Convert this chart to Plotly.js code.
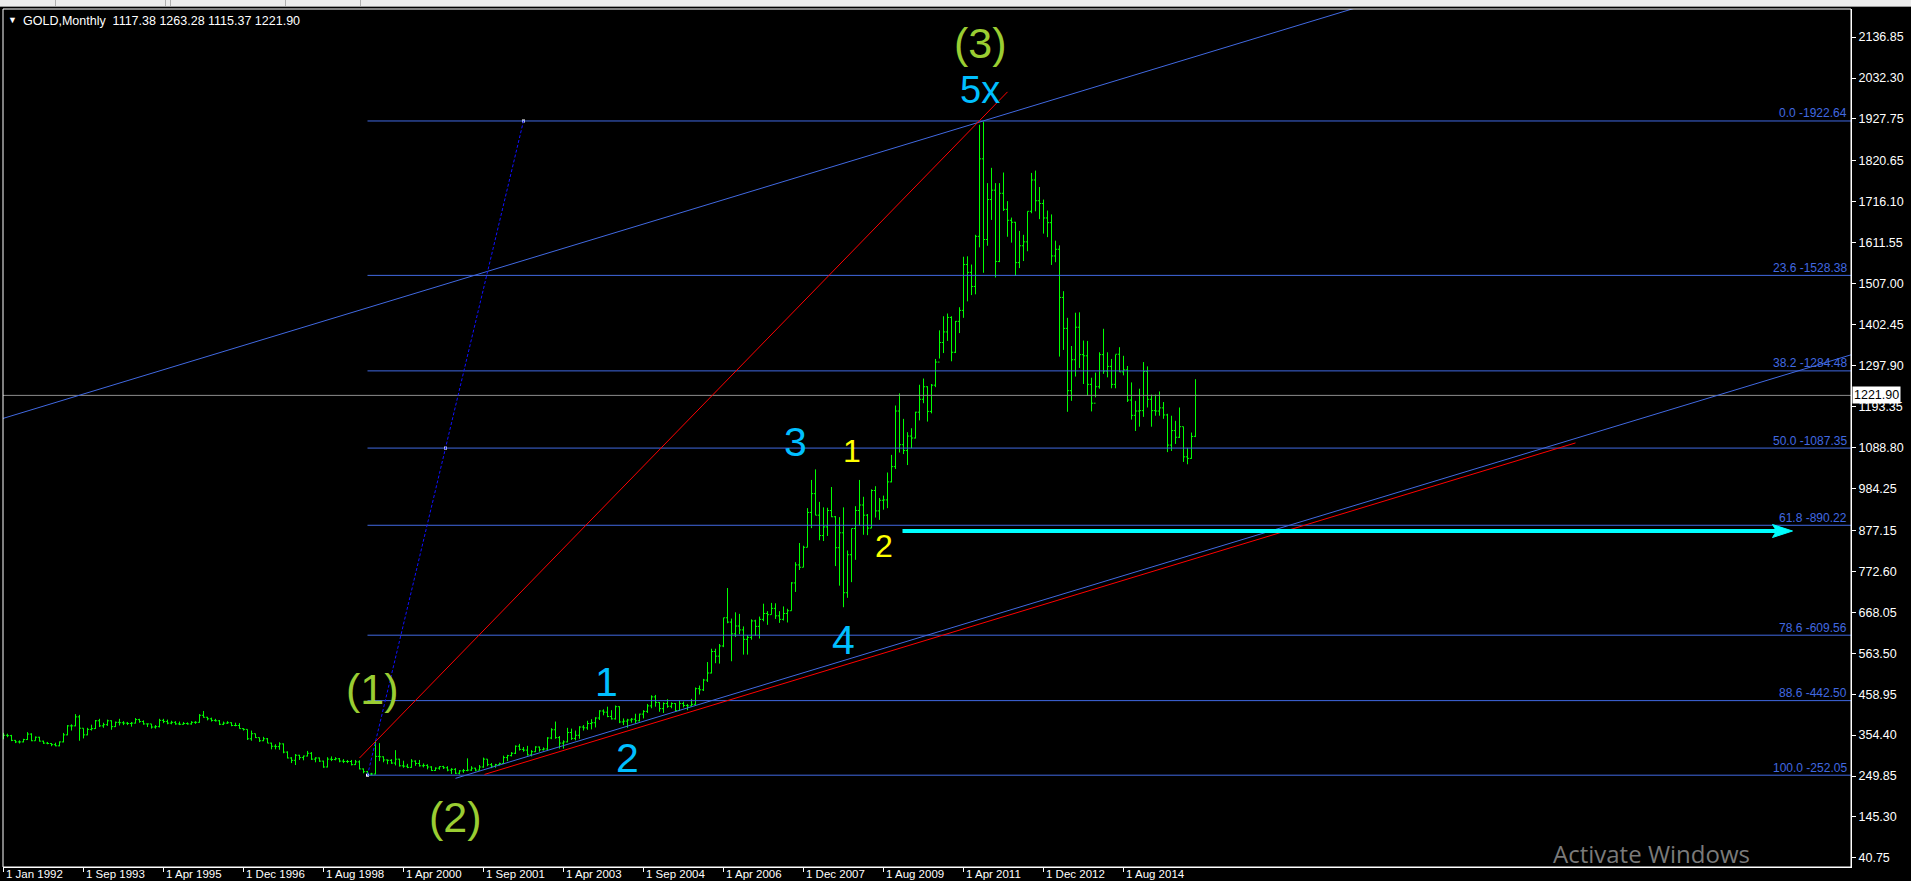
<!DOCTYPE html>
<html><head><meta charset="utf-8">
<script src="https://cdn.plot.ly/plotly-3.0.1.min.js"></script>
<style>
html,body{margin:0;padding:0;background:#000;overflow:hidden;}
#chart{position:absolute;left:0;top:0;width:1911px;height:881px;}
#tb{position:absolute;left:0;top:0;width:1911px;height:6px;background:#ececec;border-bottom:1px solid #9a9a9a;z-index:5;}
.sep{position:absolute;top:0;width:1px;height:6px;background:#b0b0b0;}
</style></head><body>
<div id="chart"></div>
<div id="tb"><div class="sep" style="left:55px"></div><div class="sep" style="left:165px"></div><div class="sep" style="left:170px"></div><div class="sep" style="left:285px"></div><div class="sep" style="left:360px"></div></div>
<script>
// ---- data (GOLD monthly bars, one entry per bar) ----
const symbol = 'GOLD', period = 'Monthly';
const open = [
353,354,353,341,337,337,343,357,340,349,339,334,
333,330,327,337,355,378,378,401,372,355,369,371,
391,378,381,391,376,387,386,385,384,385,394,389,383,
383,375,376,392,389,385,387,383,382,384,383,387,
387,405,400,396,392,391,382,385,386,379,379,371,
369,345,358,348,340,345,334,326,325,332,311,296,
290,303,297,301,308,293,296,288,273,293,292,294,
288,287,287,279,286,268,261,255,255,300,299,291,
290,283,293,276,275,272,288,282,276,277,273,264,270,274,
271,265,267,257,263,264,265,270,265,273,293,279,275,
279,282,297,302,308,326,318,316,304,312,324,317,319,
347,368,348,334,337,361,346,354,375,373,384,386,398,416,
413,402,396,427,388,390,393,395,391,408,415,429,452,
438,422,435,428,435,417,435,430,429,433,473,470,495,
513,568,556,582,654,643,613,633,623,599,604,646,
632,650,665,662,678,659,650,665,672,743,789,783,
834,923,971,916,864,886,928,912,833,871,718,815,
882,928,942,916,883,979,927,954,955,1001,1040,1182,
1096,1081,1118,1113,1179,1212,1244,1181,1248,1307,1357,1384,
1421,1332,1411,1439,1556,1536,1500,1628,1826,1620,1722,1746,
1564,1738,1697,1669,1664,1561,1604,1614,1692,1772,1719,1712,
1675,1663,1578,1595,1472,1393,1234,1313,1396,1326,1323,1250,
1202,1244,1326,1284,1296,1250,1327,1282,1287,1210,1171,1182,
1183,1283,1212,1183,1182,1190,1172,1095,1132,1115,1142,1065,
1061,1117.38];
const high = [
360,358,355,342,341,345,362,359,351,350,340,337,
334,335,338,360,380,382,408,406,372,373,381,393,
396,386,394,392,389,396,390,388,388,398,396,392,384,
383,380,396,396,394,391,390,389,388,387,390,390,
408,416,401,399,396,393,389,390,387,386,385,372,
369,366,358,348,350,347,335,331,336,333,313,298,
306,304,302,314,311,298,297,289,298,300,298,296,
293,291,291,291,290,269,263,258,341,334,300,292,
293,316,294,289,281,293,290,291,282,280,275,272,275,276,
275,270,270,265,268,295,275,271,278,297,293,283,281,
284,302,304,311,328,332,324,327,316,326,325,323,349,
372,389,352,341,373,371,366,377,380,391,395,400,418,420,
427,418,430,428,397,396,398,409,409,418,434,456,457,
439,438,446,438,436,443,440,434,447,476,481,498,541,
575,575,587,654,730,652,668,664,632,610,650,649,
657,690,671,692,691,671,683,677,745,796,845,838,
934,1006,1033,950,936,935,988,914,911,936,826,881,
939,1006,963,919,982,990,960,966,1025,1070,1196,1227,
1162,1128,1138,1180,1249,1265,1245,1251,1315,1388,1424,1431,
1424,1412,1447,1576,1577,1556,1632,1913,1921,1764,1803,1764,
1764,1791,1718,1676,1665,1642,1632,1692,1790,1796,1754,1722,
1694,1684,1617,1605,1488,1420,1348,1433,1434,1362,1361,1267,
1280,1332,1392,1332,1315,1326,1345,1323,1297,1255,1208,1239,
1307,1296,1224,1224,1232,1205,1175,1170,1157,1191,1142,1088,
1127,1263.28];
const low = [
344,349,339,334,333,336,342,339,340,338,332,331,
326,326,326,336,354,366,377,340,346,354,366,370,
375,373,378,368,375,379,380,380,376,384,386,381,375,
371,371,374,385,382,382,381,380,381,381,381,383,
386,399,392,389,389,380,380,383,377,377,371,366,
342,340,347,337,339,334,318,318,317,308,295,283,
278,291,290,300,291,285,286,271,272,288,290,285,
283,283,277,278,267,257,252,252,254,288,285,280,
281,277,274,271,270,271,276,274,272,267,263,263,266,268,
262,255,255,254,258,262,263,262,264,271,275,270,271,
277,281,288,300,306,315,312,302,300,311,312,315,316,
344,345,320,320,336,342,341,345,366,368,369,374,393,405,
400,394,394,385,380,373,386,384,389,397,411,423,427,
414,411,424,423,414,416,425,418,428,432,458,467,490,
512,538,537,579,640,543,605,612,560,560,598,608,
601,645,636,662,651,641,647,642,672,720,776,783,
834,883,916,852,850,863,911,786,736,681,705,745,
802,890,866,865,883,910,904,930,934,1000,1034,1076,
1072,1044,1087,1112,1158,1202,1155,1176,1243,1316,1330,1361,
1309,1330,1381,1420,1462,1478,1480,1600,1535,1604,1670,1523,
1562,1693,1627,1612,1527,1547,1565,1590,1687,1692,1672,1635,
1626,1555,1562,1321,1338,1180,1208,1270,1292,1251,1221,1181,
1217,1239,1277,1268,1240,1240,1282,1273,1205,1160,1131,1142,
1167,1191,1142,1170,1170,1162,1077,1080,1098,1113,1052,1046,
1060,1115.37];
const close = [
354,353,341,337,337,343,357,340,349,339,334,333,
330,327,337,355,378,378,401,372,355,369,371,391,
378,381,391,376,387,386,385,384,385,394,389,383,383,
375,376,392,389,385,387,383,382,384,383,387,387,
405,400,396,392,391,382,385,386,379,379,371,369,
345,358,348,340,345,334,326,325,332,311,296,290,
303,297,301,308,293,296,288,273,293,292,294,288,
287,287,279,286,268,261,255,255,300,299,291,290,
283,293,276,275,272,288,282,276,277,273,264,270,274,271,
265,267,257,263,264,265,270,265,273,293,279,275,279,
282,297,302,308,326,318,316,304,312,324,317,319,347,
368,348,334,337,361,346,354,375,373,384,386,398,416,413,
402,396,427,388,390,393,395,391,408,415,429,452,438,
422,435,428,435,417,435,430,429,433,473,470,495,513,
568,556,582,654,643,613,633,623,599,604,646,632,
650,665,662,678,659,650,665,672,743,789,783,834,
923,971,916,864,886,928,912,833,871,718,815,882,
928,942,916,883,979,927,954,955,1001,1040,1182,1096,
1081,1118,1113,1179,1212,1244,1181,1248,1307,1357,1384,1421,
1332,1411,1439,1556,1536,1500,1628,1826,1620,1722,1746,1564,
1738,1697,1669,1664,1561,1604,1614,1692,1772,1719,1712,1675,
1663,1578,1595,1472,1393,1234,1313,1396,1326,1323,1250,1202,
1244,1326,1284,1296,1250,1327,1282,1287,1210,1171,1182,1183,
1283,1212,1183,1182,1190,1172,1095,1132,1115,1142,1065,1061,
1117,1221.90];

const dateTickIndex = [0,20,40,60,80,100,120,140,160,180,200,220,240,260,280];
const dateTickText = ['1 Jan 1992','1 Sep 1993','1 Apr 1995','1 Dec 1996','1 Aug 1998','1 Apr 2000',
  '1 Sep 2001','1 Apr 2003','1 Sep 2004','1 Apr 2006','1 Dec 2007','1 Aug 2009','1 Apr 2011','1 Dec 2012','1 Aug 2014'];
const priceTicks = [2136.85,2032.30,1927.75,1820.65,1716.10,1611.55,1507.00,1402.45,1297.90,1193.35,
  1088.80,984.25,877.15,772.60,668.05,563.50,458.95,354.40,249.85,145.30,40.75];

// Fibonacci retracement levels
const fibRatio = ['0.0','23.6','38.2','50.0','61.8','78.6','88.6','100.0'];
const fibPrice = [1922.64,1528.38,1284.48,1087.35,890.22,609.56,442.50,252.05];

// drawing objects: [barIndex, price] end points
const fibDiagonal   = [[91, 252.05], [130, 1922.64]];
const upperChannel  = [[-1, 1160.4], [400, 2403.5]];
const lowerChannel  = [[113, 244], [470, 1350.7]];
const lowerRedLine  = [[120.25, 254], [393, 1100.5]];
const impulseRed    = [[89, 296], [251, 1997]];
const targetArrow   = [[224.75, 875.6], [447.25, 875.6]];

// wave labels
const waveText  = ['(1)','(2)','(3)','5x','1','2','3','4','1','2'];
const waveIndex = [92.25,113,244.25,244,150.75,156,198,209.9,212,220.1];
const wavePrice = [469.6,144,2119.3,2001,490,297.2,1102.9,597.3,1078.7,836.1];

// ---- rendering ----
const L = 3, T = 9, W = 1848, H = 858;
const xRange = [-0.125, 461.875], yRange = [17.6, 2208.6];
const pxPerBar = W / (xRange[1] - xRange[0]);
const pxPerPrice = H / (yRange[1] - yRange[0]);
const px = v => (v - L) / W;              // pixel -> paper x
const py = v => (T + H - v) / H;          // pixel -> paper y
const lastI = close.length - 1;
const idx = close.map((_, i) => i);
const fmt = v => v.toFixed(2);
const nb = '\u00a0';

const FONT = 'Liberation Sans, Arial, sans-serif';
const BAR = '#00ff00', FIB = '#4169e1', AQUA = '#00ffff';

const traces = [{
  type: 'ohlc', x: idx, open, high, low, close,
  increasing: {line: {color: BAR, width: 1}},
  decreasing: {line: {color: BAR, width: 1}},
  tickwidth: 0.4, hoverinfo: 'skip', showlegend: false
}, {
  type: 'scatter', mode: 'markers', hoverinfo: 'skip', showlegend: false,
  x: [fibDiagonal[0][0], (fibDiagonal[0][0] + fibDiagonal[1][0]) / 2, fibDiagonal[1][0]],
  y: [fibDiagonal[0][1], (fibDiagonal[0][1] + fibDiagonal[1][1]) / 2, fibDiagonal[1][1]],
  marker: {symbol: 'square', size: 3, color: '#ffffff', line: {width: 0}}
}];

const seg = (p, color, width, dash) => ({type: 'line', xref: 'x', yref: 'y',
  x0: p[0][0], y0: p[0][1], x1: p[1][0], y1: p[1][1], line: {color, width, dash: dash || 'solid'}});

const shapes = [];
fibPrice.forEach(v => shapes.push({type: 'line', xref: 'x', yref: 'y', x0: fibDiagonal[0][0], x1: 470, y0: v, y1: v, line: {color: FIB, width: 1}}));
shapes.push({type: 'line', xref: 'x', yref: 'y', x0: -5, x1: 470, y0: close[lastI], y1: close[lastI], line: {color: '#8c8c8c', width: 1}});
shapes.push(seg(upperChannel, FIB, 1));
shapes.push(seg(lowerRedLine, '#ff0000', 1));
shapes.push(seg(lowerChannel, FIB, 1));
shapes.push(seg(impulseRed, '#ff0000', 1));
shapes.push(seg(fibDiagonal, '#1010ff', 1, '3px,2px'));
// target arrow: shaft + head (head size given in screen pixels)
const tipX = targetArrow[1][0], tipY = targetArrow[1][1];
const headLen = 20 / pxPerBar, notch = 16 / pxPerBar, headHalf = 6.5 / pxPerPrice;
shapes.push({type: 'line', xref: 'x', yref: 'y', x0: targetArrow[0][0], y0: targetArrow[0][1],
  x1: tipX - notch, y1: tipY, line: {color: AQUA, width: 4}});
shapes.push({type: 'path', xref: 'x', yref: 'y',
  path: `M${tipX},${tipY} L${tipX - headLen},${tipY + headHalf} L${tipX - notch},${tipY} L${tipX - headLen},${tipY - headHalf} Z`,
  fillcolor: AQUA, line: {color: AQUA, width: 1}});
// frame
shapes.push({type: 'rect', xref: 'paper', yref: 'paper', x0: 0, x1: 1, y0: 0, y1: 1, line: {color: '#ffffff', width: 1}});

const annotations = [];
// header
annotations.push({xref: 'paper', yref: 'paper', x: px(6), y: py(20), xanchor: 'left', yanchor: 'middle',
  text: '▼', showarrow: false, font: {family: FONT, size: 9, color: '#ffffff'}});
annotations.push({xref: 'paper', yref: 'paper', x: px(21), y: py(21.5), xanchor: 'left', yanchor: 'middle', showarrow: false,
  text: symbol + ',' + period + nb + nb + [open[lastI], high[lastI], low[lastI], close[lastI]].map(fmt).join(nb),
  font: {family: FONT, size: 12.5, color: '#ffffff'}});
// date labels, left-aligned to their tick like the terminal draws them
dateTickIndex.forEach((i, k) => annotations.push({xref: 'x', yref: 'paper', x: i, y: py(881), xanchor: 'left', yanchor: 'bottom',
  xshift: 1, showarrow: false, borderpad: 0, text: dateTickText[k], font: {family: FONT, size: 11.5, color: '#ffffff'}}));
// fib labels
fibPrice.forEach((v, k) => annotations.push({xref: 'paper', yref: 'y', x: 1, y: v, xanchor: 'right', yanchor: 'bottom',
  xshift: -2, yshift: -1.5, showarrow: false, text: fibRatio[k] + ' -' + fmt(v),
  font: {family: FONT, size: 12, color: FIB}}));
// current price tag
annotations.push({xref: 'paper', yref: 'y', x: 1, y: close[lastI], xanchor: 'left', yanchor: 'middle', xshift: 1,
  showarrow: false, text: fmt(close[lastI]), bgcolor: '#ffffff', borderpad: 1,
  font: {family: FONT, size: 12.5, color: '#000000'}});
// wave labels
waveText.forEach((t, k) => {
  let color, size, ys = 0;
  if (t.startsWith('(')) { color = '#9acd32'; size = 43; ys = 1; }
  else if (k >= 8) { color = '#ffff00'; size = 32; }
  else if (t === '5x') { color = '#00bfff'; size = 38; }
  else { color = '#00bfff'; size = 41; }
  annotations.push({xref: 'x', yref: 'y', x: waveIndex[k], y: wavePrice[k], xanchor: 'center', yanchor: 'middle',
    yshift: ys, showarrow: false, text: t, font: {family: FONT, size, color}});
});
// OS watermark
annotations.push({xref: 'paper', yref: 'paper', x: px(1551), y: py(872), xanchor: 'left', yanchor: 'bottom', showarrow: false,
  text: 'Activate Windows', font: {family: 'Open Sans, Noto Sans, sans-serif', size: 24, color: '#7a7a7a'}});

const layout = {
  width: 1911, height: 881,
  margin: {l: L, r: 1911 - L - W, t: T, b: 881 - T - H, pad: 0},
  paper_bgcolor: '#000000', plot_bgcolor: '#000000',
  font: {family: FONT, color: '#ffffff'},
  showlegend: false, hovermode: false, dragmode: false,
  xaxis: {
    type: 'linear', range: xRange, rangeslider: {visible: false},
    tickmode: 'array', tickvals: dateTickIndex, ticktext: dateTickText, showticklabels: false,
    ticks: 'outside', ticklen: 4, tickcolor: '#ffffff', tickwidth: 1,
    showgrid: false, zeroline: false, showline: true, linecolor: '#ffffff', linewidth: 1, fixedrange: true
  },
  yaxis: {
    type: 'linear', range: yRange, side: 'right',
    tickmode: 'array', tickvals: priceTicks, ticktext: priceTicks.map(fmt),
    ticks: 'outside', ticklen: 4, tickcolor: '#ffffff', tickwidth: 1,
    tickfont: {family: FONT, size: 12.5, color: '#ffffff'},
    showgrid: false, zeroline: false, showline: true, linecolor: '#ffffff', linewidth: 1, fixedrange: true
  },
  shapes, annotations
};

Plotly.newPlot('chart', traces, layout, {staticPlot: true, displayModeBar: false});
</script></body></html>
